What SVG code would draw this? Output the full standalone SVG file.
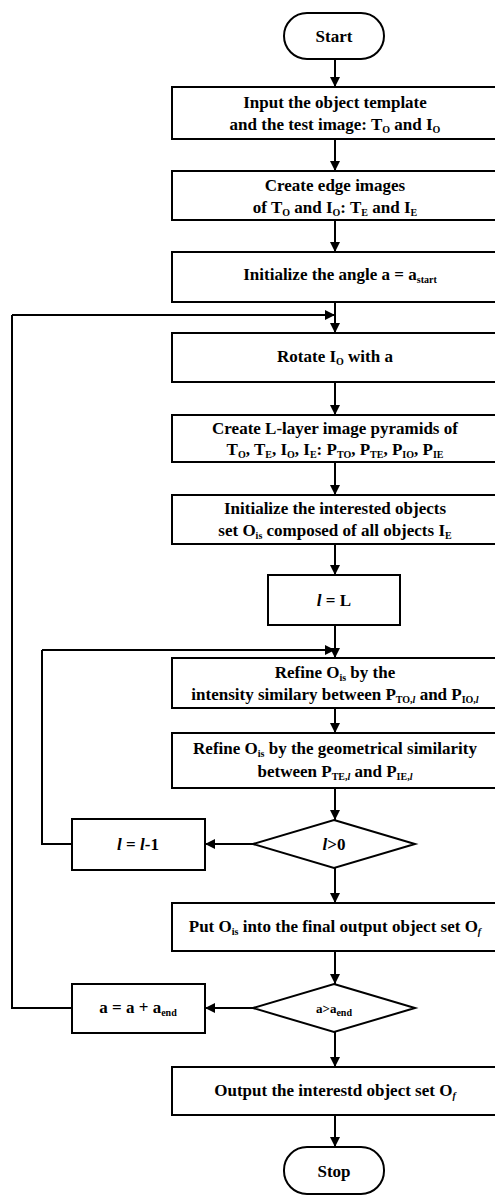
<svg xmlns="http://www.w3.org/2000/svg" width="495" height="1197" viewBox="0 0 495 1197">
<style>
.b{fill:#fff;stroke:#000;stroke-width:2}
text{font-family:'Liberation Serif','Times New Roman','Tinos','Noto Serif','DejaVu Serif','FreeSerif',serif;font-size:17px;fill:#000;text-anchor:middle;font-weight:bold}
.s{font-size:10px}
.c{fill:none;stroke:#000;stroke-width:2}
</style>
<defs>
<marker id="ah" viewBox="0 0 10 10" refX="10" refY="5" markerWidth="5" markerHeight="5" orient="auto" markerUnits="strokeWidth">
<path d="M0,0 L10,5 L0,10 z" fill="#000"/>
</marker>
</defs>
<rect width="495" height="1197" fill="#fff"/>
<g id="connectors">
<path class="c" d="M335,59 V87" marker-end="url(#ah)"/>
<path class="c" d="M335,139 V171" marker-end="url(#ah)"/>
<path class="c" d="M335,220 V252" marker-end="url(#ah)"/>
<path class="c" d="M335,302 V333" marker-end="url(#ah)"/>
<path class="c" d="M12,315 H335" marker-end="url(#ah)"/>
<path class="c" d="M335,382 V415" marker-end="url(#ah)"/>
<path class="c" d="M335,462 V495" marker-end="url(#ah)"/>
<path class="c" d="M335,544 V575" marker-end="url(#ah)"/>
<path class="c" d="M335,625 V658" marker-end="url(#ah)"/>
<path class="c" d="M42,650 H335" marker-end="url(#ah)"/>
<path class="c" d="M335,708 V733" marker-end="url(#ah)"/>
<path class="c" d="M335,788 V820" marker-end="url(#ah)"/>
<path class="c" d="M253,844 H205" marker-end="url(#ah)"/>
<path class="c" d="M72,844 H42 V650"/>
<path class="c" d="M335,868 V903" marker-end="url(#ah)"/>
<path class="c" d="M335,951 V984" marker-end="url(#ah)"/>
<path class="c" d="M253,1008 H205" marker-end="url(#ah)"/>
<path class="c" d="M72,1008 H12 V315"/>
<path class="c" d="M335,1032 V1067" marker-end="url(#ah)"/>
<path class="c" d="M335,1115 V1147" marker-end="url(#ah)"/>
</g>
<g id="start">
<rect class="b" x="284" y="13" width="100" height="46" rx="23"/>
<text x="334" y="42">Start</text>
</g>
<g id="input">
<rect class="b" x="172" y="87" width="340" height="52"/>
<text x="335" y="108">Input the object template</text>
<text x="335" y="130">and the test image: T<tspan class="s" dy="3">O</tspan><tspan dy="-3"> and I</tspan><tspan class="s" dy="3">O</tspan></text>
</g>
<g id="edge">
<rect class="b" x="172" y="171" width="340" height="49"/>
<text x="335" y="191">Create edge images</text>
<text x="335" y="213">of T<tspan class="s" dy="3">O</tspan><tspan dy="-3"> and I</tspan><tspan class="s" dy="3">O</tspan><tspan dy="-3">: T</tspan><tspan class="s" dy="3">E</tspan><tspan dy="-3"> and I</tspan><tspan class="s" dy="3">E</tspan></text>
</g>
<g id="init-angle">
<rect class="b" x="172" y="252" width="340" height="50"/>
<text x="340" y="280">Initialize the angle a = a<tspan class="s" dy="3">start</tspan></text>
</g>
<g id="rotate">
<rect class="b" x="172" y="333" width="340" height="49"/>
<text x="335" y="362">Rotate I<tspan class="s" dy="3">O</tspan><tspan dy="-3"> with a</tspan></text>
</g>
<g id="pyramids">
<rect class="b" x="172" y="415" width="340" height="47"/>
<text x="335" y="434">Create L-layer image pyramids of</text>
<text x="335" y="455">T<tspan class="s" dy="3">O</tspan><tspan dy="-3">, T</tspan><tspan class="s" dy="3">E</tspan><tspan dy="-3">, I</tspan><tspan class="s" dy="3">O</tspan><tspan dy="-3">, I</tspan><tspan class="s" dy="3">E</tspan><tspan dy="-3">: P</tspan><tspan class="s" dy="3">TO</tspan><tspan dy="-3">, P</tspan><tspan class="s" dy="3">TE</tspan><tspan dy="-3">, P</tspan><tspan class="s" dy="3">IO</tspan><tspan dy="-3">, P</tspan><tspan class="s" dy="3">IE</tspan></text>
</g>
<g id="init-objects">
<rect class="b" x="172" y="495" width="340" height="49"/>
<text x="335" y="514">Initialize the interested objects</text>
<text x="335" y="536">set O<tspan class="s" dy="3">is</tspan><tspan dy="-3"> composed of all objects I</tspan><tspan class="s" dy="3">E</tspan></text>
</g>
<g id="l-eq-L">
<rect class="b" x="268" y="575" width="132" height="50"/>
<text x="334" y="606"><tspan font-style="italic">l</tspan> = L</text>
</g>
<g id="refine-intensity">
<rect class="b" x="172" y="658" width="340" height="50"/>
<text x="335" y="678">Refine O<tspan class="s" dy="3">is</tspan><tspan dy="-3"> by the</tspan></text>
<text x="335" y="700">intensity similary between P<tspan class="s" dy="3">TO,<tspan font-style="italic">l</tspan></tspan><tspan dy="-3"> and P</tspan><tspan class="s" dy="3">IO,<tspan font-style="italic">l</tspan></tspan></text>
</g>
<g id="refine-geometry">
<rect class="b" x="172" y="733" width="340" height="55"/>
<text x="335" y="754">Refine O<tspan class="s" dy="3">is</tspan><tspan dy="-3"> by the geometrical similarity</tspan></text>
<text x="335" y="777">between P<tspan class="s" dy="3">TE,<tspan font-style="italic">l</tspan></tspan><tspan dy="-3"> and P</tspan><tspan class="s" dy="3">IE,<tspan font-style="italic">l</tspan></tspan></text>
</g>
<g id="l-gt-0">
<polygon class="b" points="334,820 415,844 334,868 253,844"/>
<text x="334" y="850"><tspan font-style="italic">l</tspan>&gt;0</text>
</g>
<g id="l-dec">
<rect class="b" x="72" y="819" width="133" height="51"/>
<text x="138" y="850"><tspan font-style="italic">l</tspan> = <tspan font-style="italic">l</tspan>-1</text>
</g>
<g id="put">
<rect class="b" x="172" y="903" width="340" height="48"/>
<text x="335" y="932">Put O<tspan class="s" dy="3">is</tspan><tspan dy="-3"> into the final output object set O</tspan><tspan class="s" dy="3" font-style="italic">f</tspan></text>
</g>
<g id="a-gt-end">
<polygon class="b" points="334,984 415,1008 334,1032 253,1008"/>
<text x="334" y="1013" style="font-size:13px">a&gt;a<tspan class="s" dy="3">end</tspan></text>
</g>
<g id="a-inc">
<rect class="b" x="72" y="984" width="133" height="49"/>
<text x="138" y="1013">a = a + a<tspan class="s" dy="3">end</tspan></text>
</g>
<g id="output">
<rect class="b" x="172" y="1067" width="340" height="48"/>
<text x="335" y="1096">Output the interestd object set O<tspan class="s" dy="3" font-style="italic">f</tspan></text>
</g>
<g id="stop">
<rect class="b" x="284" y="1147" width="100" height="47" rx="23"/>
<text x="334" y="1177">Stop</text>
</g>
</svg>
